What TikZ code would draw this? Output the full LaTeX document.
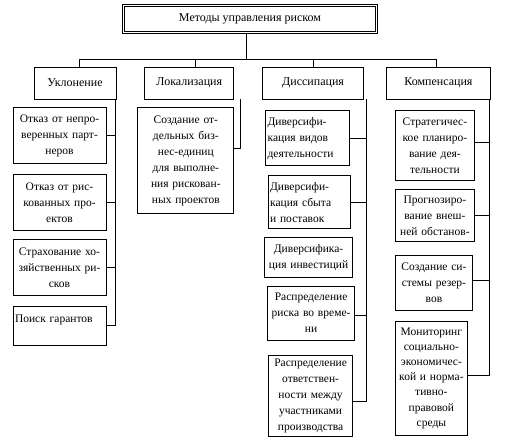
\documentclass[tikz,border=0pt]{standalone}
\usepackage{fontspec}
\setmainfont{Liberation Serif}
\usetikzlibrary{positioning}
\tikzstyle{head} = [rectangle, draw=black, double, double distance=1.5pt, minimum width=253pt, minimum height=27pt, text centered, font=\fontsize{12}{14}\selectfont]
\tikzstyle{method} = [rectangle, draw=black, minimum height=32pt, text centered, font=\fontsize{12}{14}\selectfont]
\tikzstyle{item} = [rectangle, draw=black, align=center, inner xsep=2pt, inner ysep=0pt, font=\fontsize{11.5}{16}\selectfont]
\tikzstyle{link} = [line width=0.8pt]

\begin{document}
\begin{tikzpicture}[line width=0.8pt]
      \useasboundingbox (0,0) rectangle (505pt,-445pt);
      \node (head) [head] at (250pt,-19pt) {Методы управления риском};

      \node (ukl) [method, minimum width=82pt] at (75pt,-83pt) {Уклонение};
      \node (lok) [method, minimum width=89pt, right=28pt of ukl] {Локализация};
      \node (diss) [method, minimum width=101pt, right=28pt of lok] {Диссипация};
      \node (komp) [method, minimum width=104pt, right=22pt of diss] {Компенсация};

      % Уклонение
      \node (u1) [item, text width=89pt, minimum height=56pt, below=8pt of ukl, xshift=-15.5pt] {Отказ от непро-\\веренных парт-\\неров};
      \node (u2) [item, text width=89pt, minimum height=56pt, below=10pt of u1] {Отказ от рис-\\кованных про-\\ектов};
      \node (u3) [item, text width=89pt, minimum height=56pt, below=8pt of u2] {Страхование хо-\\зяйственных ри-\\сков};
      \node (u4) [item, text width=89pt, minimum height=39pt, align=left, below=10pt of u3] {Поиск гарантов\\[-2pt]\mbox{}};

      % Локализация
      \node (l1) [item, text width=92pt, minimum height=106pt, below=8pt of lok, xshift=-3.5pt] {Создание от-\\дельных биз-\\нес-единиц\\для выполне-\\ния рискован-\\ных проектов};

      % Диссипация
      \node (d1) [item, text width=80pt, minimum height=55pt, align=left, below=11pt of diss, xshift=-5.5pt] {Диверсифи-\\кация видов\\деятельности};
      \node (d2) [item, text width=78pt, minimum height=53pt, align=left, below=9pt of d1, xshift=1.5pt] {Диверсифи-\\кация сбыта\\и поставок};
      \node (d3) [item, text width=84pt, minimum height=40pt, below=8pt of d2, xshift=-0.5pt] {Диверсифика-\\ция инвестиций};
      \node (d4) [item, text width=83pt, minimum height=54pt, below=8pt of d3, xshift=2.5pt] {Распределение\\риска во време-\\ни};
      \node (d5) [item, text width=80pt, minimum height=81pt, below=14pt of d4, xshift=-0.5pt] {Распределение\\ответствен-\\ности между\\участниками\\производства};

      % Компенсация
      \node (k1) [item, text width=75pt, minimum height=70pt, below=11pt of komp, xshift=-3.5pt] {Стратегичес-\\кое планиро-\\вание дея-\\тельности};
      \node (k2) [item, text width=75pt, minimum height=52pt, below=8pt of k1] {Прогнозиро-\\вание внеш-\\ней обстанов-};
      \node (k3) [item, text width=73pt, minimum height=55pt, below=13pt of k2, xshift=-1pt] {Создание си-\\стемы резер-\\вов};
      \node (k4) [item, text width=68pt, minimum height=114pt, below=10pt of k3, xshift=-2.5pt, font=\fontsize{11.5}{15.2}\selectfont] {Мониторинг\\социально-\\экономичес-\\кой и норма-\\тивно-\\правовой\\среды};

      % bus
      \draw [link] ([xshift=-4pt]head.south) -- ++(0,-26pt) coordinate (bus);
      \draw [link] ([xshift=4pt]ukl.north) |- (bus) -| ([xshift=-2pt]komp.north);
      \draw [link] ([xshift=6.5pt]lok.north) -- ++(0,7pt);
      \draw [link] ([xshift=0.5pt]diss.north) -- ++(0,7pt);

      \coordinate (ubar) at ([xshift=-1pt]ukl.south east);
      \coordinate (lbar) at ([xshift=6pt]lok.south east);
      \coordinate (dbar) at ([xshift=2pt]diss.south east);
      \coordinate (kbar) at ([xshift=-1pt]komp.south east);

      \draw [link] (ubar) |- (u4.east);
      \draw [link] (u1.east) -- (u1.east -| ubar);
      \draw [link] (u2.east) -- (u2.east -| ubar);
      \draw [link] (u3.east) -- (u3.east -| ubar);

      \draw [link] (lbar) |- ([yshift=12pt]l1.east);

      \draw [link] (dbar) |- ([yshift=-5.5pt]d5.east);
      \draw [link, line width=1.6pt] (d1.east) -- (d1.east -| dbar);
      \draw [link] (d2.east) -- (d2.east -| dbar);
      \draw [link] ([yshift=-2pt]d4.east) -- ([yshift=-2pt]d4.east -| dbar);

      \draw [link] (kbar) |- ([yshift=3pt]k4.east);
      \draw [link] ([yshift=3pt]k1.east) -- ([yshift=3pt]k1.east -| kbar);
      \draw [link] (k2.east) -- (k2.east -| kbar);
      \draw [link] ([yshift=2.5pt]k3.east) -- ([yshift=2.5pt]k3.east -| kbar);
\end{tikzpicture}
\end{document}
